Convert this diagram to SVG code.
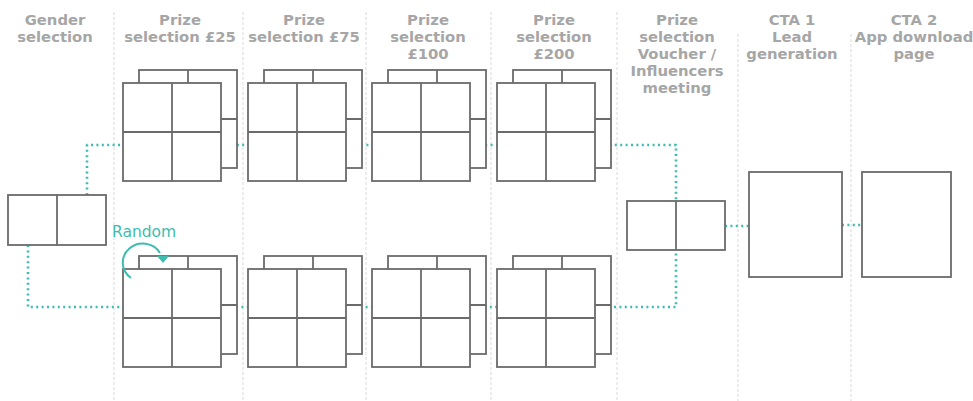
<svg xmlns="http://www.w3.org/2000/svg" width="973" height="401" viewBox="0 0 973 401">
<style>
.hdr{font-family:"DejaVu Sans",Verdana,sans-serif;font-weight:bold;font-size:14.8px;fill:#a6a6a6;text-anchor:middle}
.div{stroke:#d9d9d9;stroke-width:1;stroke-dasharray:3 2;fill:none}
.box{fill:#fff;stroke:#6b6b6b;stroke-width:1.8}
.ln{stroke:#6b6b6b;stroke-width:1.8;fill:none}
.con{fill:none;stroke:#3fbcb0;stroke-width:2.6;stroke-dasharray:2 3.4;stroke-linejoin:round}
.rnd{font-family:"DejaVu Sans",Verdana,sans-serif;font-size:15.5px;fill:#3fbcb0}
</style>
<defs>
<g id="grid">
<rect class="box" x="0" y="0" width="98" height="98"/>
<line class="ln" x1="49" y1="0" x2="49" y2="98"/>
<line class="ln" x1="0" y1="49" x2="98" y2="49"/>
</g>
<g id="stack">
<use href="#grid" x="16" y="-13"/>
<use href="#grid" x="0" y="0"/>
</g>
</defs>
<rect width="973" height="401" fill="#fff"/>
<g id="dividers">
<line class="div" x1="114" y1="12" x2="114" y2="401"/>
<line class="div" x1="243" y1="12" x2="243" y2="401"/>
<line class="div" x1="366" y1="12" x2="366" y2="401"/>
<line class="div" x1="491" y1="12" x2="491" y2="401"/>
<line class="div" x1="617" y1="12" x2="617" y2="401"/>
<line class="div" x1="738" y1="34" x2="738" y2="401"/>
<line class="div" x1="851" y1="34" x2="851" y2="401"/>
</g>
<g id="headers">
<text class="hdr" x="55" y="25">Gender</text>
<text class="hdr" x="55" y="42">selection</text>
<text class="hdr" x="180" y="25">Prize</text>
<text class="hdr" x="180" y="42">selection £25</text>
<text class="hdr" x="304" y="25">Prize</text>
<text class="hdr" x="304" y="42">selection £75</text>
<text class="hdr" x="428" y="25">Prize</text>
<text class="hdr" x="428" y="42">selection</text>
<text class="hdr" x="428" y="59">£100</text>
<text class="hdr" x="554" y="25">Prize</text>
<text class="hdr" x="554" y="42">selection</text>
<text class="hdr" x="554" y="59">£200</text>
<text class="hdr" x="677" y="25">Prize</text>
<text class="hdr" x="677" y="42">selection</text>
<text class="hdr" x="677" y="59">Voucher /</text>
<text class="hdr" x="677" y="76">Influencers</text>
<text class="hdr" x="677" y="93">meeting</text>
<text class="hdr" x="792" y="25">CTA 1</text>
<text class="hdr" x="792" y="42">Lead</text>
<text class="hdr" x="792" y="59">generation</text>
<text class="hdr" x="914" y="25">CTA 2</text>
<text class="hdr" x="914" y="42">App download</text>
<text class="hdr" x="914" y="59">page</text>
</g>
<g id="connectors">
<path class="con" d="M87 195 V145 H676 V201"/>
<path class="con" d="M28 245 V307 H676 V250"/>
<path class="con" d="M725 226 H749"/>
<path class="con" d="M842 225 H862"/>
</g>
<g id="gender">
<rect class="box" x="8" y="195" width="98" height="50"/>
<line class="ln" x1="57" y1="195" x2="57" y2="245"/>
</g>
<g id="prize25-top"><use href="#stack" x="123" y="83"/></g>
<g id="prize75-top"><use href="#stack" x="248" y="83"/></g>
<g id="prize100-top"><use href="#stack" x="372" y="83"/></g>
<g id="prize200-top"><use href="#stack" x="497" y="83"/></g>
<g id="prize25-bottom"><use href="#stack" x="123" y="269"/></g>
<g id="prize75-bottom"><use href="#stack" x="248" y="269"/></g>
<g id="prize100-bottom"><use href="#stack" x="372" y="269"/></g>
<g id="prize200-bottom"><use href="#stack" x="497" y="269"/></g>
<g id="voucher">
<rect class="box" x="627" y="201" width="98" height="49"/>
<line class="ln" x1="676" y1="201" x2="676" y2="250"/>
</g>
<g id="cta1"><rect class="box" x="749" y="172" width="93" height="105"/></g>
<g id="cta2"><rect class="box" x="862" y="172" width="89" height="105"/></g>
<g id="random">
<text class="rnd" x="112" y="237">Random</text>
<path d="M131 278 A20 19 0 1 1 160 253" fill="none" stroke="#3fbcb0" stroke-width="2"/>
<polygon points="157,256 169,256 163,263" fill="#3fbcb0"/>
</g>
</svg>
